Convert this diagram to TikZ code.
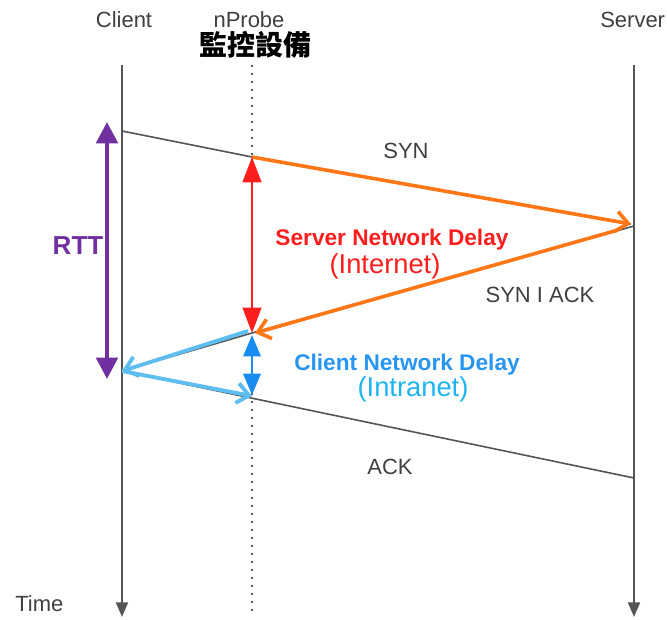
\documentclass[tikz,border=0pt]{standalone}
\usepackage{fontspec}
\setmainfont{Liberation Sans}
\newfontfamily\cjkfont{Noto Sans CJK TC}
\usetikzlibrary{arrows.meta}
\definecolor{tl}{RGB}{85,85,85}
\definecolor{orng}{RGB}{255,118,20}
\definecolor{redd}{RGB}{255,30,30}
\definecolor{purp}{RGB}{112,48,160}
\definecolor{lblue}{RGB}{95,190,240}
\definecolor{dblue}{RGB}{25,140,240}
\definecolor{txtblue}{RGB}{40,150,240}
\definecolor{txtlblue}{RGB}{30,180,240}
\begin{document}
\begin{tikzpicture}[x=0.75pt,y=-0.75pt,
  lbl/.style={font=\fontsize{16.5}{18}\selectfont, text=black!75, inner sep=0pt},
  timeline/.style={draw=tl, line width=1.5pt, -{Triangle[length=11pt,width=9pt]}},
  msg/.style={draw=tl, line width=1.2pt},
  orarrow/.style={draw=orng, line width=2.7pt, -{Straight Barb[length=9pt,width=15pt,line width=2.7pt]}},
  blarrow/.style={draw=lblue, line width=2.9pt, -{Straight Barb[length=9pt,width=15pt,line width=2.9pt]}},
  dbl/.style={line width=1.8pt},
]
\useasboundingbox (0,0) rectangle (667,619);
% headers
\node[lbl] (client) at (124,20) {Client};
\node[lbl] (nprobe) at (249,20) {nProbe};
\node[lbl, anchor=west] (server) at (600,20) {Server};
\node[font=\cjkfont\bfseries\fontsize{21}{23}\selectfont, inner sep=0pt] (cjk) at (255,45) {監控設備};
\node[lbl, anchor=west] (time) at (15,604) {Time};
% timelines
\coordinate (cTop) at (122,65); \coordinate (cBot) at (122,617);
\coordinate (pTop) at (252,65); \coordinate (pBot) at (252,615);
\coordinate (sTop) at (634,65); \coordinate (sBot) at (634,617);
\draw[timeline] (cTop) -- (cBot);
\draw[timeline] (sTop) -- (sBot);
\draw[tl, line width=1.5pt, dash pattern=on 1.5pt off 4.5pt] (pTop) -- (pBot);
% message endpoints
\coordinate (syn0) at (122,131);
\coordinate (syn1) at (252,157);
\coordinate (syn2) at (631,224);
\coordinate (sa0) at (634,226);
\coordinate (sa1) at (252,333);
\coordinate (ack0) at (122,371);
\coordinate (ack1) at (252,396);
\coordinate (ack2) at (634,478);
\coordinate (sa0o) at (618,230);
\coordinate (sa1o) at (255,333);
\coordinate (bl0) at (248,331);
% gray messages
\draw[msg] (syn0) -- (syn1) -- (syn2);
\draw[msg] (sa0) -- (sa1) -- (ack0);
\draw[msg] (ack0) -- (ack2);
% orange
\draw[orarrow] (syn1) -- (syn2);
\draw[orarrow] (sa0o) -- (sa1o);
% light blue
\draw[blarrow] (bl0) -- (ack0);
\draw[blarrow] (ack0) -- (ack1);
% delay arrows
\coordinate (rd0) at (252,157); \coordinate (rd1) at (252,333);
\draw[dbl, redd, {Triangle[length=19pt,width=14pt]}-{Triangle[length=19pt,width=14pt]}] (rd0) -- (rd1);
\coordinate (bd0) at (252,335); \coordinate (bd1) at (252,395);
\draw[dbl, dblue, {Triangle[length=16pt,width=13pt]}-{Triangle[length=16pt,width=13pt]}] (bd0) -- (bd1);
\coordinate (rt0) at (107,122); \coordinate (rt1) at (107,379);
\draw[line width=3pt, purp, {Triangle[length=16pt,width=16pt]}-{Triangle[length=16pt,width=16pt]}] (rt0) -- (rt1);
% labels
\node[lbl] (synl) at (406,151) {SYN};
\node[lbl] (sal) at (540,295) {SYN I ACK};
\node[lbl] (ackl) at (390,467) {ACK};
\node[font=\bfseries\fontsize{19.5}{21}\selectfont, text=purp, inner sep=0pt] (rtt) at (78,246) {RTT};
\node[font=\bfseries\fontsize{17}{19}\selectfont, text=redd, inner sep=0pt] (snd) at (392,240) {Server Network Delay};
\node[font=\fontsize{20.5}{22}\selectfont, text=redd, inner sep=0pt] (inet) at (385,266) {(Internet)};
\node[font=\bfseries\fontsize{17}{19}\selectfont, text=txtblue, inner sep=0pt] (cnd) at (407,365) {Client Network Delay};
\node[font=\fontsize{20.5}{22}\selectfont, text=txtlblue, inner sep=0pt] (intra) at (413,389) {(Intranet)};
\end{tikzpicture}
\end{document}
